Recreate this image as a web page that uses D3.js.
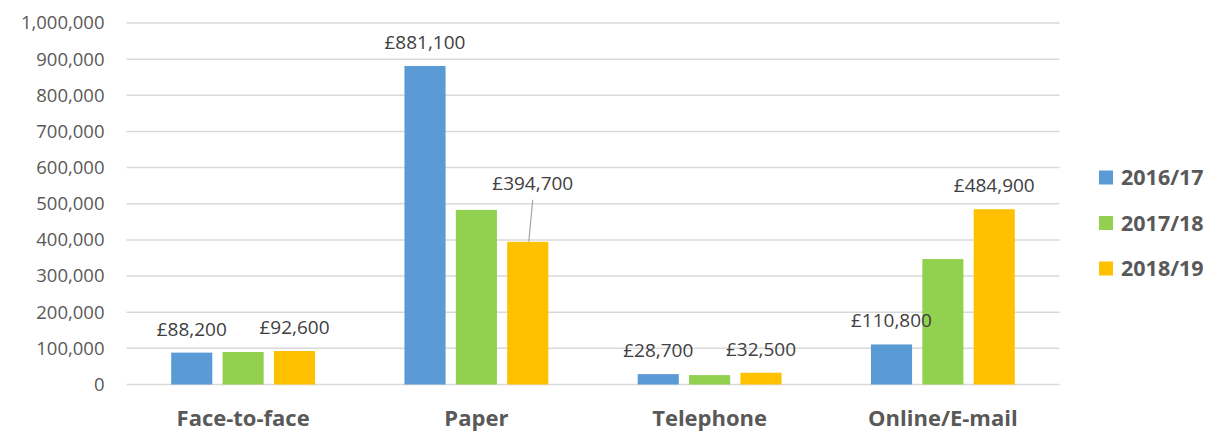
<!DOCTYPE html>
<html>
<head>
<meta charset="utf-8">
<script src="https://cdn.jsdelivr.net/npm/d3@7"></script>
<style>
  html, body { margin: 0; padding: 0; background: #ffffff; }
  svg { display: block; }
  text { font-family: "Open Sans", "Noto Sans", sans-serif; }
</style>
</head>
<body>
<svg id="chart" width="1207" height="433"></svg>
<script>
// Contact channel costs by year
const categories = ["Face-to-face", "Paper", "Telephone", "Online/E-mail"];
const seriesNames = ["2016/17", "2017/18", "2018/19"];
const values2016 = [88200, 881100, 28700, 110800];
const values2017 = [90000, 483000, 26000, 347000];
const values2018 = [92600, 394700, 32500, 484900];
const yTicks = [0, 100000, 200000, 300000, 400000, 500000, 600000, 700000, 800000, 900000, 1000000];
const labelledSeries = ["2016/17", "2018/19"];

const seriesValues = [values2016, values2017, values2018];
const colors = { "2016/17": "#5B9BD5", "2017/18": "#92D050", "2018/19": "#FFC000" };

const svg = d3.select("#chart");
const plot = { left: 126.5, right: 1059.5, top: 23, bottom: 384.5 };

const x0 = d3.scaleBand().domain(categories).range([plot.left, plot.right]).padding(0);
const x1 = d3.scaleBand().domain(seriesNames).range([0, x0.bandwidth()])
  .paddingInner(0.2).paddingOuter(0.87);
const y = d3.scaleLinear().domain([0, 1000000]).range([plot.bottom, plot.top]);

// gridlines
svg.append("g").selectAll("line").data(yTicks).join("line")
  .attr("x1", plot.left).attr("x2", plot.right)
  .attr("y1", d => y(d)).attr("y2", d => y(d))
  .attr("stroke", "#d9d9d9").attr("stroke-width", 1.5);

// y axis labels
const yAxis = svg.append("g")
  .attr("transform", `translate(${plot.left},0)`)
  .call(d3.axisLeft(y).tickValues(yTicks).tickFormat(d3.format(",")).tickSize(0).tickPadding(22));
yAxis.select(".domain").remove();
yAxis.selectAll("text").attr("fill", "#595959").style("font-size", "18.5px")
  .style("font-family", "'Open Sans', sans-serif");

// flatten to records
const records = [];
categories.forEach((c, i) => {
  seriesNames.forEach((s, j) => records.push({ category: c, series: s, value: seriesValues[j][i] }));
});

// bars
svg.append("g").selectAll("rect").data(records).join("rect")
  .attr("x", d => x0(d.category) + x1(d.series))
  .attr("y", d => y(d.value))
  .attr("width", x1.bandwidth())
  .attr("height", d => y(0) - y(d.value))
  .attr("fill", d => colors[d.series]);

// data labels (callout nudged up-right where it would touch a neighbour)
const fmtMoney = v => "£" + d3.format(",")(v);
const nudged = { "Paper|2018/19": { dx: 5, dy: -52 } };
const labels = svg.append("g");
records.filter(d => labelledSeries.includes(d.series)).forEach(d => {
  const cx = x0(d.category) + x1(d.series) + x1.bandwidth() / 2;
  const top = y(d.value);
  const n = nudged[d.category + "|" + d.series];
  if (n) {
    labels.append("line")
      .attr("x1", cx + 1).attr("y1", top)
      .attr("x2", cx + n.dx).attr("y2", top + n.dy + 10)
      .attr("stroke", "#a6a6a6").attr("stroke-width", 1.2);
  }
  labels.append("text")
    .attr("x", cx + (n ? n.dx : 0))
    .attr("y", top - 17 + (n ? n.dy + 17 : 0))
    .attr("text-anchor", "middle")
    .attr("fill", "#404040")
    .style("font-size", "19px")
    .text(fmtMoney(d.value));
});

// category labels
svg.append("g").selectAll("text").data(categories).join("text")
  .attr("x", d => x0(d) + x0.bandwidth() / 2)
  .attr("y", 426)
  .attr("text-anchor", "middle")
  .attr("fill", "#595959")
  .style("font-size", "22px").style("font-weight", "bold")
  .text(d => d);

// legend
const legend = svg.append("g").selectAll("g").data(seriesNames).join("g")
  .attr("transform", (d, i) => `translate(1099,${170.5 + i * 45.5})`);
legend.append("rect").attr("width", 14).attr("height", 14).attr("fill", d => colors[d]);
legend.append("text").attr("x", 22).attr("y", 14.5)
  .attr("fill", "#595959").style("font-size", "21.5px").style("font-weight", "bold")
  .text(d => d);
</script>
</body>
</html>
